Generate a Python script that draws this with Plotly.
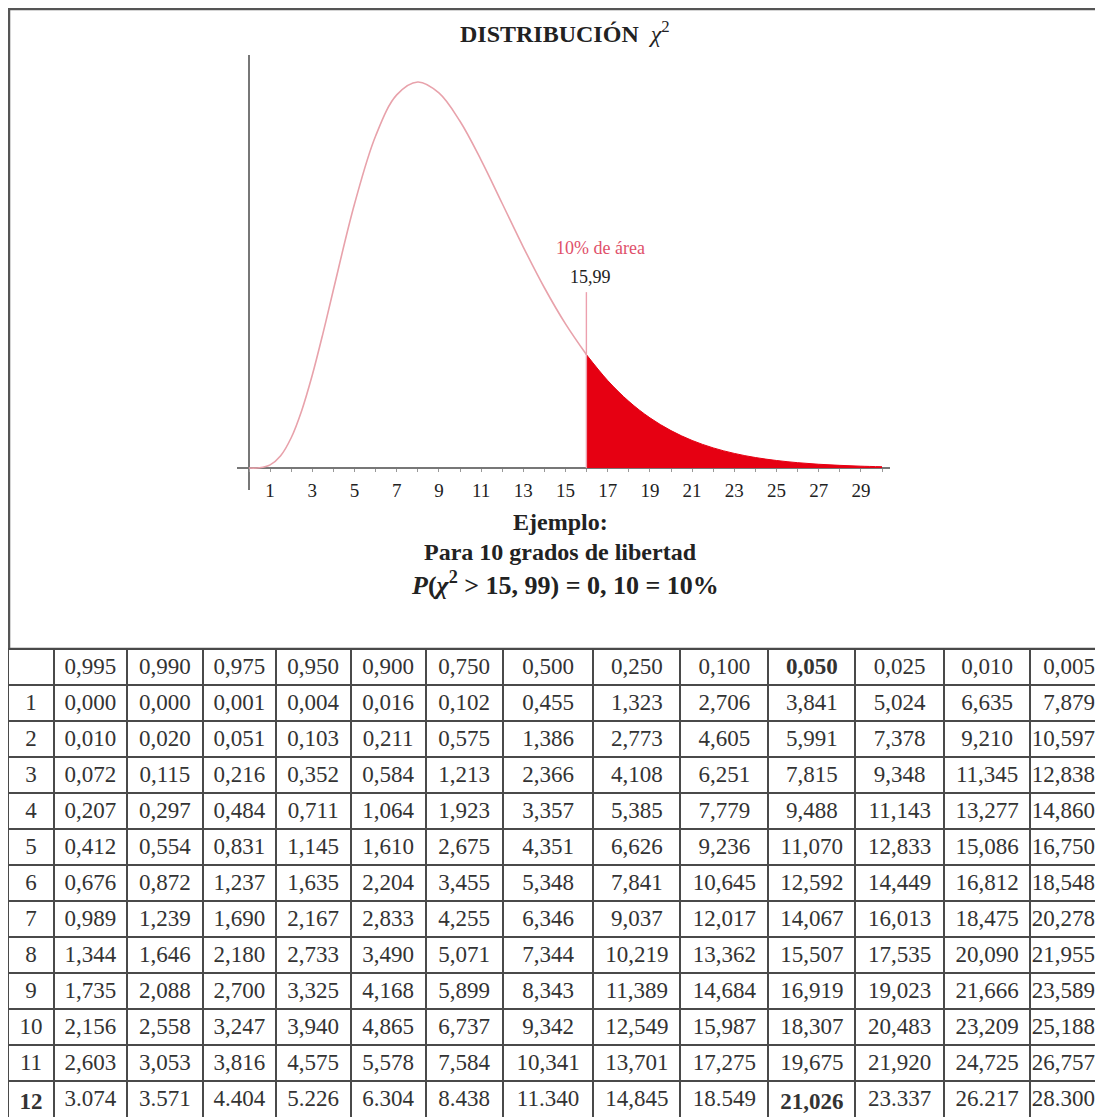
import plotly.graph_objects as go

# ---------------- data ----------------
# chi-square density (10 d.f.)
LEFT_X = [0, 0.5, 1, 1.5, 2, 2.5, 3, 3.5, 4, 5, 6, 7, 8, 9, 10, 11, 12, 13, 14, 15, 15.99]
LEFT_Y = [0, 0.00006, 0.00079, 0.00311, 0.00766, 0.01457, 0.02353, 0.03395, 0.04511,
          0.06680, 0.08402, 0.09441, 0.09768, 0.09490, 0.08773, 0.07791, 0.06693,
          0.05591, 0.04561, 0.03646, 0.02870]
TAIL_X = [15.99, 17, 18, 19, 20, 21, 22, 23, 24, 25, 26, 27, 28, 29, 30]
TAIL_Y = [0.02870, 0.02213, 0.01687, 0.01270, 0.00946, 0.00697, 0.00509, 0.00369,
          0.00265, 0.00190, 0.00135, 0.00095, 0.00067, 0.00046, 0.00032]
CRITICAL = 15.99
CRIT_LINE_TOP = 0.0445
X_TICKS = [1, 3, 5, 7, 9, 11, 13, 15, 17, 19, 21, 23, 25, 27, 29]

PROBS = ["0,995", "0,990", "0,975", "0,950", "0,900", "0,750", "0,500",
         "0,250", "0,100", "0,050", "0,025", "0,010", "0,005"]
DF = ["1", "2", "3", "4", "5", "6", "7", "8", "9", "10", "11", "12"]
TABLE_ROWS = [
    ["0,000", "0,000", "0,001", "0,004", "0,016", "0,102", "0,455", "1,323", "2,706", "3,841", "5,024", "6,635", "7,879"],
    ["0,010", "0,020", "0,051", "0,103", "0,211", "0,575", "1,386", "2,773", "4,605", "5,991", "7,378", "9,210", "10,597"],
    ["0,072", "0,115", "0,216", "0,352", "0,584", "1,213", "2,366", "4,108", "6,251", "7,815", "9,348", "11,345", "12,838"],
    ["0,207", "0,297", "0,484", "0,711", "1,064", "1,923", "3,357", "5,385", "7,779", "9,488", "11,143", "13,277", "14,860"],
    ["0,412", "0,554", "0,831", "1,145", "1,610", "2,675", "4,351", "6,626", "9,236", "11,070", "12,833", "15,086", "16,750"],
    ["0,676", "0,872", "1,237", "1,635", "2,204", "3,455", "5,348", "7,841", "10,645", "12,592", "14,449", "16,812", "18,548"],
    ["0,989", "1,239", "1,690", "2,167", "2,833", "4,255", "6,346", "9,037", "12,017", "14,067", "16,013", "18,475", "20,278"],
    ["1,344", "1,646", "2,180", "2,733", "3,490", "5,071", "7,344", "10,219", "13,362", "15,507", "17,535", "20,090", "21,955"],
    ["1,735", "2,088", "2,700", "3,325", "4,168", "5,899", "8,343", "11,389", "14,684", "16,919", "19,023", "21,666", "23,589"],
    ["2,156", "2,558", "3,247", "3,940", "4,865", "6,737", "9,342", "12,549", "15,987", "18,307", "20,483", "23,209", "25,188"],
    ["2,603", "3,053", "3,816", "4,575", "5,578", "7,584", "10,341", "13,701", "17,275", "19,675", "21,920", "24,725", "26,757"],
    ["3.074", "3.571", "4.404", "5.226", "6.304", "8.438", "11.340", "14,845", "18.549", "21,026", "23.337", "26.217", "28.300"],
]
BOLD_PROB = "0,050"
BOLD_DF = "12"

# ---------------- styles ----------------
OFF = 8                     # page body margin
W, H = 1103 - OFF, 1117 - OFF
SERIF = "Liberation Serif"
COL_W = [46, 73, 76, 73, 75, 75, 77, 91, 87, 88, 87, 89, 86, 73]
TXT = "#333333"


def px(x):
    return (x - OFF) / W


def py(y):
    return 1 - (y - OFF) / H


fig = go.Figure()

fig.add_trace(go.Scatter(x=LEFT_X, y=LEFT_Y, mode="lines",
                         line=dict(color="#e8a2ab", width=1.6, shape="spline"),
                         hoverinfo="skip", showlegend=False))
fig.add_trace(go.Scatter(x=TAIL_X, y=TAIL_Y, mode="lines", fill="tozeroy",
                         fillcolor="#e60012", line=dict(color="#e60012", width=1, shape="spline"),
                         hoverinfo="skip", showlegend=False))
fig.add_trace(go.Scatter(x=[CRITICAL, CRITICAL], y=[0, CRIT_LINE_TOP], mode="lines",
                         line=dict(color="#eca0ae", width=1.4),
                         hoverinfo="skip", showlegend=False))

# table
header_vals = [""] + PROBS
header_weight = ["normal"] + ["bold" if p == BOLD_PROB else "normal" for p in PROBS]
cols = [[f"<b>{d}</b>" if d == BOLD_DF else d for d in DF]]
for j, p in enumerate(PROBS):
    col = []
    for i, d in enumerate(DF):
        v = TABLE_ROWS[i][j]
        if p == BOLD_PROB and d == BOLD_DF:
            v = f"<b>{v}</b>"
        col.append(v)
    cols.append(col)
aligns = ["center"] * 13 + ["right"]

fig.add_trace(go.Table(
    domain=dict(x=[0, 1], y=[0, py(649)]),
    columnwidth=COL_W,
    header=dict(values=header_vals, height=36, fill_color="white",
                line=dict(color="#4a4a4a", width=2), align=aligns,
                font=dict(family=SERIF, size=23, color=TXT, weight=header_weight)),
    cells=dict(values=cols, height=36, fill_color="white",
               line=dict(color="#4a4a4a", width=2), align=aligns,
               font=dict(family=SERIF, size=23, color=TXT)),
))

x0_px, x_scale = 249, 21.1
x_range = [(237 - x0_px) / x_scale, (890 - x0_px) / x_scale]
base_px, y_scale = 468, 3952
y_range = [-(490 - base_px) / y_scale, (base_px - 55) / y_scale]

fig.update_layout(
    width=W, height=H, autosize=False,
    margin=dict(l=0, r=0, t=0, b=0),
    paper_bgcolor="white", plot_bgcolor="white",
    showlegend=False,
    xaxis=dict(domain=[px(237), px(890)], range=x_range, anchor="free",
               position=py(base_px), showgrid=False, showline=False,
               zeroline=True, zerolinecolor="#777777", zerolinewidth=1.5,
               tickmode="array", tickvals=X_TICKS, ticks="outside", ticklen=3,
               tickcolor="#999999", tickwidth=1,
               minor=dict(dtick=1, tick0=0, ticks="outside", ticklen=3, tickcolor="#999999"),
               tickfont=dict(family=SERIF, size=19, color="#222222"),
               ticklabelstandoff=2, fixedrange=True),
    yaxis=dict(domain=[py(490), py(55)], range=y_range, anchor="free",
               position=px(x0_px), showgrid=False, showline=False,
               zeroline=True, zerolinecolor="#777777", zerolinewidth=1.5,
               showticklabels=False, ticks="", fixedrange=True),
    shapes=[dict(type="rect", xref="paper", yref="paper", x0=1 / W, x1=1.05,
                 y0=py(649), y1=py(9), line=dict(color="#555555", width=2.5),
                 layer="below")],
)

ann = [
    dict(text="<b>DISTRIBUCIÓN</b>  <i>χ</i><sup>2</sup>", x=px(565), y=py(32),
         font=dict(family=SERIF, size=24, color="#222222")),
    dict(text="<b>Ejemplo:</b>", x=px(560), y=py(522),
         font=dict(family=SERIF, size=24, color="#222222")),
    dict(text="<b>Para 10 grados de libertad</b>", x=px(560), y=py(552),
         font=dict(family=SERIF, size=24, color="#222222")),
    dict(text="<b><i>P</i>(<i>χ</i><sup>2</sup> > 15, 99) = 0, 10 = 10%</b>", x=px(565), y=py(583),
         font=dict(family=SERIF, size=26, color="#222222")),
]
for a in ann:
    a.update(xref="paper", yref="paper", showarrow=False, xanchor="center", yanchor="middle")
    fig.add_annotation(**a)

fig.add_annotation(x=(600 - x0_px) / x_scale, y=(base_px - 248) / y_scale, xref="x", yref="y",
                   text="10% de área", showarrow=False,
                   font=dict(family=SERIF, size=18, color="#e0506a"))
fig.add_annotation(x=(590 - x0_px) / x_scale, y=(base_px - 277) / y_scale, xref="x", yref="y",
                   text="15,99", showarrow=False,
                   font=dict(family=SERIF, size=18, color="#222222"))

fig.write_html("out.html")
